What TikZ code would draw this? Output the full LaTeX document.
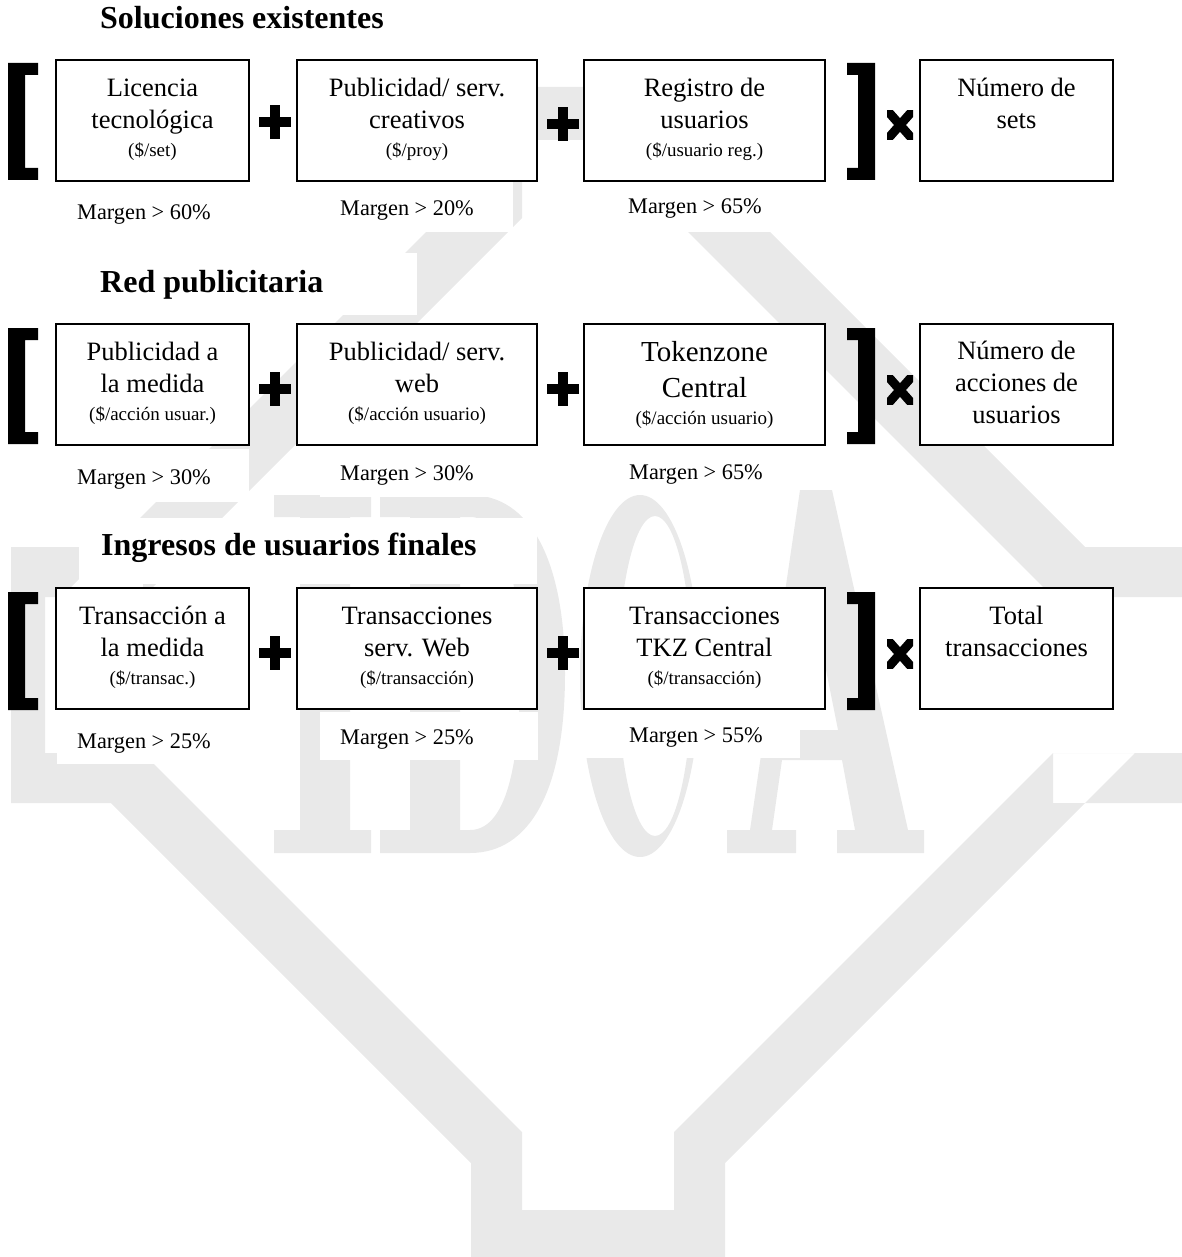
\documentclass[tikz,border=0pt]{standalone}
\usepackage{fontspec}
\setmainfont{Liberation Serif}
\definecolor{wm}{RGB}{233,233,233}
\tikzset{
  bx/.style={draw, line width=1.3pt, fill=white, inner sep=0pt, minimum height=121pt},
  tl/.style={anchor=base, inner sep=0pt, font=\fontsize{26.5}{28}\selectfont},
  tk/.style={anchor=base, inner sep=0pt, font=\fontsize{29}{30}\selectfont},
  sm/.style={anchor=base, inner sep=0pt, font=\fontsize{19}{20}\selectfont},
  mg/.style={anchor=base west, inner sep=0pt, font=\fontsize{22.3}{24}\selectfont},
  ttl/.style={anchor=base west, inner sep=0pt, font=\bfseries\fontsize{32}{34}\selectfont},
  wbg/.style={fill=white, draw=none}
}
\newcommand\threel[4]{%
  \node[tl] (#1-1) at ([yshift=-37pt]#1.north) {#2};
  \node[tl] (#1-2) at ([yshift=-69pt]#1.north) {#3};
  \node[sm] (#1-3) at ([yshift=-97pt]#1.north) {#4};}
\newcommand\twoll[3]{%
  \node[tl] (#1-1) at ([yshift=-37pt]#1.north) {#2};
  \node[tl] (#1-2) at ([yshift=-69pt]#1.north) {#3};}
\newcommand\openbr[2]{% top, bottom
  \fill (8,#1) -- (38,#1) -- (38,#1+12) -- (25,#1+12) -- (25,#2-12) -- (38,#2-12) -- (38,#2) -- (8,#2) -- cycle;}
\newcommand\closebr[2]{%
  \fill (847,#1) -- (875,#1) -- (875,#2) -- (847,#2) -- (847,#2-12) -- (858,#2-12) -- (858,#1+12) -- (847,#1+12) -- cycle;}
\newcommand\plussign[2]{%
  \fill (#1-16,#2-5) rectangle (#1+16,#2+5);
  \fill (#1-5,#2-17) rectangle (#1+5,#2+17);}
\newcommand\timessign[2]{%
  \begin{scope}
  \clip (#1-13,#2-14.5) rectangle (#1+13,#2+14.5);
  \draw[line width=9pt] (#1-15,#2-17) -- (#1+15,#2+17);
  \draw[line width=9pt] (#1+15,#2-17) -- (#1-15,#2+17);
  \end{scope}}
\begin{document}
\begin{tikzpicture}[x=1pt, y=-1pt]
\useasboundingbox (0,0) rectangle (1182,1257);
% ---------- watermark ----------
\fill[wm]
  (471,87) rectangle (725,140)
  (471,140) -- (522,140) -- (522,218) -- (143,597) -- (61,597) -- (471,187) -- cycle
  (725,140) -- (674,140) -- (674,218) -- (1053,597) -- (1135,597) -- (725,187) -- cycle
  (11,547) rectangle (143,597)
  (11,547) rectangle (45,803)
  (11,753) rectangle (143,803)
  (1053,547) rectangle (1182,597)
  (1053,753) rectangle (1182,803)
  (471,1210) -- (522,1210) -- (522,1132) -- (143,753) -- (61,753) -- (471,1163) -- cycle
  (725,1210) -- (674,1210) -- (674,1132) -- (1053,753) -- (1135,753) -- (725,1163) -- cycle
  (471,1210) rectangle (725,1260);
% letters
\fill[wm] (274,495) rectangle (371,517) (300,495) rectangle (350,853) (274,830) rectangle (371,853);
\fill[wm, even odd rule]
  (380,495) -- (470,495) .. controls (530,495) and (565,560) .. (565,674)
  .. controls (565,790) and (530,853) .. (470,853) -- (380,853) -- (380,830) -- (410,830)
  -- (410,517) -- (380,517) -- cycle
  (460,517) -- (470,517) .. controls (510,517) and (520,600) .. (520,674)
  .. controls (520,750) and (510,830) .. (470,830) -- (460,830) -- cycle;
\fill[wm, even odd rule] (640,676) ellipse [x radius=60, y radius=181]
  (655,676) ellipse [x radius=37, y radius=160];
\fill[wm, even odd rule]
  (800,490) -- (832,490) -- (908,830) -- (924,830) -- (924,853) -- (837,853) -- (837,830)
  -- (855,830) -- (842,760) -- (782,760) -- (772,830) -- (796,830) -- (796,853) -- (727,853)
  -- (727,830) -- (750,830) -- cycle
  (790,730) -- (838,730) -- (812,600) -- cycle;
% white backgrounds of text boxes
\fill[wbg] (327,181) rectangle (513,232);
\fill[wbg] (590,181) rectangle (845,232);
\fill[wbg] (79,253) rectangle (417,315);
\fill[wbg] (57,449) rectangle (249,502);
\fill[wbg] (320,449) rectangle (537,497);
\fill[wbg] (600,446) rectangle (845,490);
\fill[wbg] (79,518) rectangle (537,584);
\fill[wbg] (57,713) rectangle (249,764);
\fill[wbg] (320,712) rectangle (538,760);
\fill[wbg] (580,710) rectangle (800,758);
% ---------- row 1 ----------
\node[ttl] (t1) at (100,29) {Soluciones existentes};
\node[bx, minimum width=193pt] (r1a) at (152.5,120.5) {};
\node[bx, minimum width=240pt] (r1b) at (417,120.5) {};
\node[bx, minimum width=241pt] (r1c) at (704.5,120.5) {};
\node[bx, minimum width=193pt] (r1d) at (1016.5,120.5) {};
\threel{r1a}{Licencia}{tecnológica}{(\$/set)}
\threel{r1b}{Publicidad/ serv.}{creativos}{(\$/proy)}
\threel{r1c}{Registro de}{usuarios}{(\$/usuario reg.)}
\twoll{r1d}{Número de}{sets}
\openbr{63}{180}
\closebr{63}{180}
\plussign{275}{122}
\plussign{563}{124}
\timessign{900}{125}
\node[mg] (r1m1) at (77,220) {Margen > 60\%};
\node[mg] (r1m2) at (340,216) {Margen > 20\%};
\node[mg] (r1m3) at (628,214) {Margen > 65\%};
% ---------- row 2 ----------
\node[ttl] (t2) at (100,292) {Red publicitaria};
\node[bx, minimum width=193pt] (r2a) at (152.5,384.5) {};
\node[bx, minimum width=240pt] (r2b) at (417,384.5) {};
\node[bx, minimum width=241pt] (r2c) at (704.5,384.5) {};
\node[bx, minimum width=193pt] (r2d) at (1016.5,384.5) {};
\threel{r2a}{Publicidad a}{la medida}{(\$/acción usuar.)}
\threel{r2b}{Publicidad/ serv.}{web}{(\$/acción usuario)}
\node[tk] (r2c-1) at ([yshift=-38pt]r2c.north) {Tokenzone};
\node[tk] (r2c-2) at ([yshift=-74pt]r2c.north) {Central};
\node[sm] (r2c-3) at ([yshift=-101pt]r2c.north) {(\$/acción usuario)};
\node[tl] (r2d-1) at ([yshift=-36pt]r2d.north) {Número de};
\node[tl] (r2d-2) at ([yshift=-68pt]r2d.north) {acciones de};
\node[tl] (r2d-3) at ([yshift=-100pt]r2d.north) {usuarios};
\openbr{328}{444}
\closebr{328}{444}
\plussign{275}{389}
\plussign{563}{389}
\timessign{900}{390}
\node[mg] (r2m1) at (77,484) {Margen > 30\%};
\node[mg] (r2m2) at (340,480) {Margen > 30\%};
\node[mg] (r2m3) at (629,479) {Margen > 65\%};
% ---------- row 3 ----------
\node[ttl] (t3) at (101,555) {Ingresos de usuarios finales};
\node[bx, minimum width=193pt] (r3a) at (152.5,648.5) {};
\node[bx, minimum width=240pt] (r3b) at (417,648.5) {};
\node[bx, minimum width=241pt] (r3c) at (704.5,648.5) {};
\node[bx, minimum width=193pt] (r3d) at (1016.5,648.5) {};
\threel{r3a}{Transacción a}{la medida}{(\$/transac.)}
\threel{r3b}{Transacciones}{serv. Web}{(\$/transacción)}
\threel{r3c}{Transacciones}{TKZ Central}{(\$/transacción)}
\twoll{r3d}{Total}{transacciones}
\openbr{592}{710}
\closebr{592}{710}
\plussign{275}{653}
\plussign{563}{653}
\timessign{900}{654}
\node[mg] (r3m1) at (77,748) {Margen > 25\%};
\node[mg] (r3m2) at (340,744) {Margen > 25\%};
\node[mg] (r3m3) at (629,742) {Margen > 55\%};
\end{tikzpicture}
\end{document}
